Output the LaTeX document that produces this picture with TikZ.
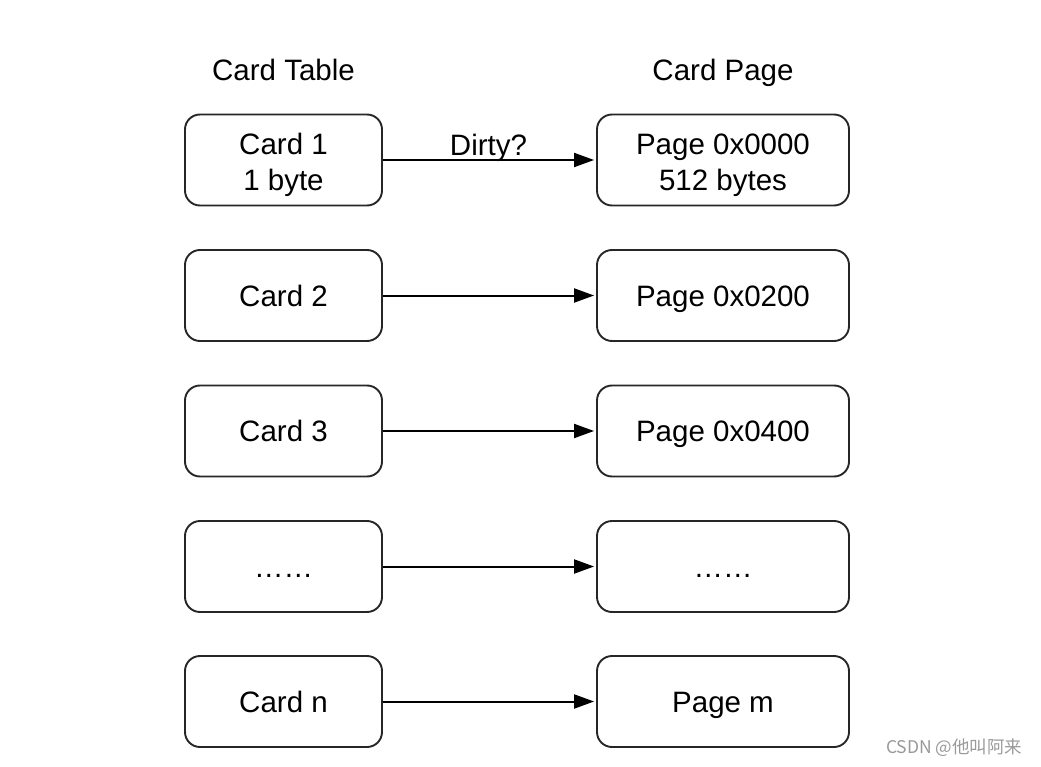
\documentclass[tikz,border=0pt]{standalone}
\usepackage{fontspec}
\setmainfont{Liberation Sans}
\newfontfamily\cjkfont{Noto Sans CJK SC}
\usetikzlibrary{arrows.meta}
\begin{document}
\begin{tikzpicture}[x=1pt,y=-1pt,
  txt/.style={font=\fontsize{29.5}{36}\selectfont},
  one/.style={text height=21pt, text depth=0pt},
  two/.style={text height=61pt, text depth=0pt},
  cell/.style={txt, draw=black!85, line width=1.9pt, rounded corners=15pt, minimum height=91pt, align=center, inner sep=0pt},
  ctab/.style={cell, minimum width=197pt},
  cpage/.style={cell, minimum width=252pt},
  link/.style={line width=2pt, -{Triangle[length=20pt,width=14pt]}, shorten >=2pt}
]
\useasboundingbox (0,0) rectangle (1041,767);
\node[txt, one] (th) at (283.5,70) {Card Table};
\node[txt, one] (ph) at (723,70) {Card Page};
\node[ctab, two] (c1) at (283.5,160) {Card 1\\1 byte};
\node[ctab, one] (c2) at (283.5,295.5) {Card 2};
\node[ctab, one] (c3) at (283.5,431) {Card 3};
\node[ctab, one] (c4) at (283.5,566.5) {……};
\node[ctab, one] (c5) at (283.5,701.5) {Card n};
\node[cpage, two] (p1) at (723,160) {Page 0x0000\\512 bytes};
\node[cpage, one] (p2) at (723,295.5) {Page 0x0200};
\node[cpage, one] (p3) at (723,431) {Page 0x0400};
\node[cpage, one] (p4) at (723,566.5) {……};
\node[cpage, one] (p5) at (723,701.5) {Page m};
\draw[link] (c1) -- node[txt, anchor=base, yshift=4pt, xshift=-1pt] (dl) {Dirty?} (p1);
\draw[link] (c2) -- (p2);
\draw[link] (c3) -- (p3);
\draw[link] (c4) -- (p4);
\draw[link] (c5) -- (p5);
\node[text=black!40, font=\cjkfont\fontsize{17.5}{20}\selectfont, anchor=east] (wm) at (1026,748) {CSDN @他叫阿来};
\end{tikzpicture}
\end{document}
